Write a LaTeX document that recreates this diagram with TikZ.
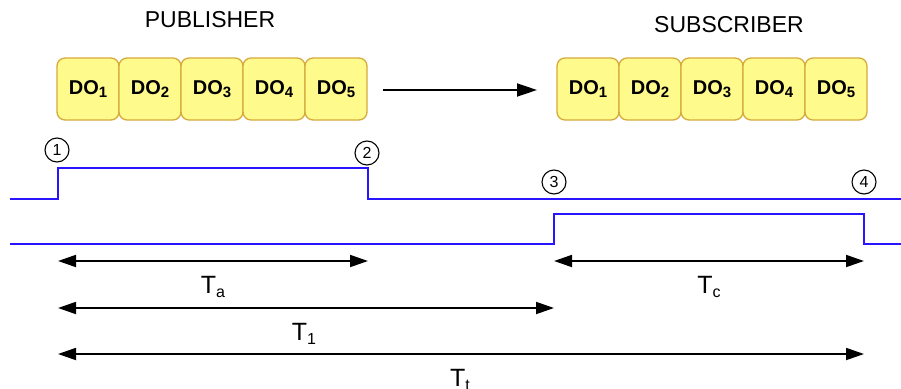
\documentclass[tikz,border=0pt]{standalone}
\usepackage{fontspec}
\setmainfont{Liberation Sans}
\usetikzlibrary{arrows.meta}
\definecolor{sig}{RGB}{40,20,255}
\definecolor{dofill}{RGB}{255,250,140}
\definecolor{dodraw}{RGB}{214,170,60}
\newcommand{\dosub}[1]{\raisebox{-3.5pt}{\fontsize{15}{15}\selectfont #1}}
\newcommand{\tsub}[1]{\raisebox{-4pt}{\fontsize{16}{16}\selectfont #1}}
\begin{document}
\begin{tikzpicture}[x=1pt,y=-1pt,
  dobox/.style={draw=dodraw, fill=dofill, line width=1.3pt, rounded corners=8pt,
    minimum width=62pt, minimum height=62pt, inner sep=0pt,
    font=\fontsize{20}{20}\selectfont\bfseries},
  title/.style={font=\fontsize{23}{23}\selectfont},
  sigline/.style={draw=sig, line width=1.8pt},
  dimarrow/.style={{Triangle[length=18pt,width=12pt]}-{Triangle[length=18pt,width=12pt]}, line width=1.8pt},
  flowarrow/.style={-{Triangle[length=20pt,width=13pt]}, line width=1.8pt},
  num/.style={circle, draw, line width=1.1pt, minimum size=24pt, inner sep=0pt,
    font=\fontsize{16}{16}\selectfont},
  tlabel/.style={anchor=base, inner sep=0pt, font=\fontsize{25}{25}\selectfont}]
\useasboundingbox (0,0) rectangle (901,388);

% titles
\node[title] (pubT) at (210,20) {PUBLISHER};
\node[title] (subT) at (729,25) {SUBSCRIBER};

% data object boxes
\foreach \i in {1,...,5}{
  \node[dobox] (p\i) at ({88+62*(\i-1)},89) {DO\dosub{\i}};
  \node[dobox] (s\i) at ({588+62*(\i-1)},89) {DO\dosub{\i}};
}

% flow arrow
\coordinate (arrS) at (383,90);
\coordinate (arrE) at (537,90);
\draw[flowarrow] (arrS) -- (arrE);

% event times
\coordinate (e1) at (58,0);
\coordinate (e2) at (368,0);
\coordinate (e3) at (554,0);
\coordinate (e4) at (864,0);

% signals
\draw[sigline] (10,199) -- (58,199) -- (58,168) -- (368,168) -- (368,199) -- (901,199);
\draw[sigline] (10,244) -- (554,244) -- (554,214) -- (864,214) -- (864,244) -- (901,244);

% circled event numbers
\node[num] (n1) at (57,150) {1};
\node[num] (n2) at (367,153) {2};
\node[num] (n3) at (554,182) {3};
\node[num] (n4) at (864,182) {4};

% dimension arrows
\coordinate (a1) at (58,261);
\coordinate (a2) at (368,261);
\coordinate (c1) at (554,261);
\coordinate (c2) at (864,261);
\coordinate (b1) at (58,308);
\coordinate (b2) at (554,308);
\coordinate (t1) at (58,354);
\coordinate (t2) at (864,354);
\draw[dimarrow] (a1) -- (a2);
\draw[dimarrow] (c1) -- (c2);
\draw[dimarrow] (b1) -- (b2);
\draw[dimarrow] (t1) -- (t2);

% labels
\node[tlabel] (Ta) at (213,293) {T\tsub{a}};
\node[tlabel] (Tc) at (709,293) {T\tsub{c}};
\node[tlabel] (T1) at (304,340) {T\tsub{1}};
\node[tlabel] (Tt) at (460,386) {T\tsub{t}};
\end{tikzpicture}
\end{document}
